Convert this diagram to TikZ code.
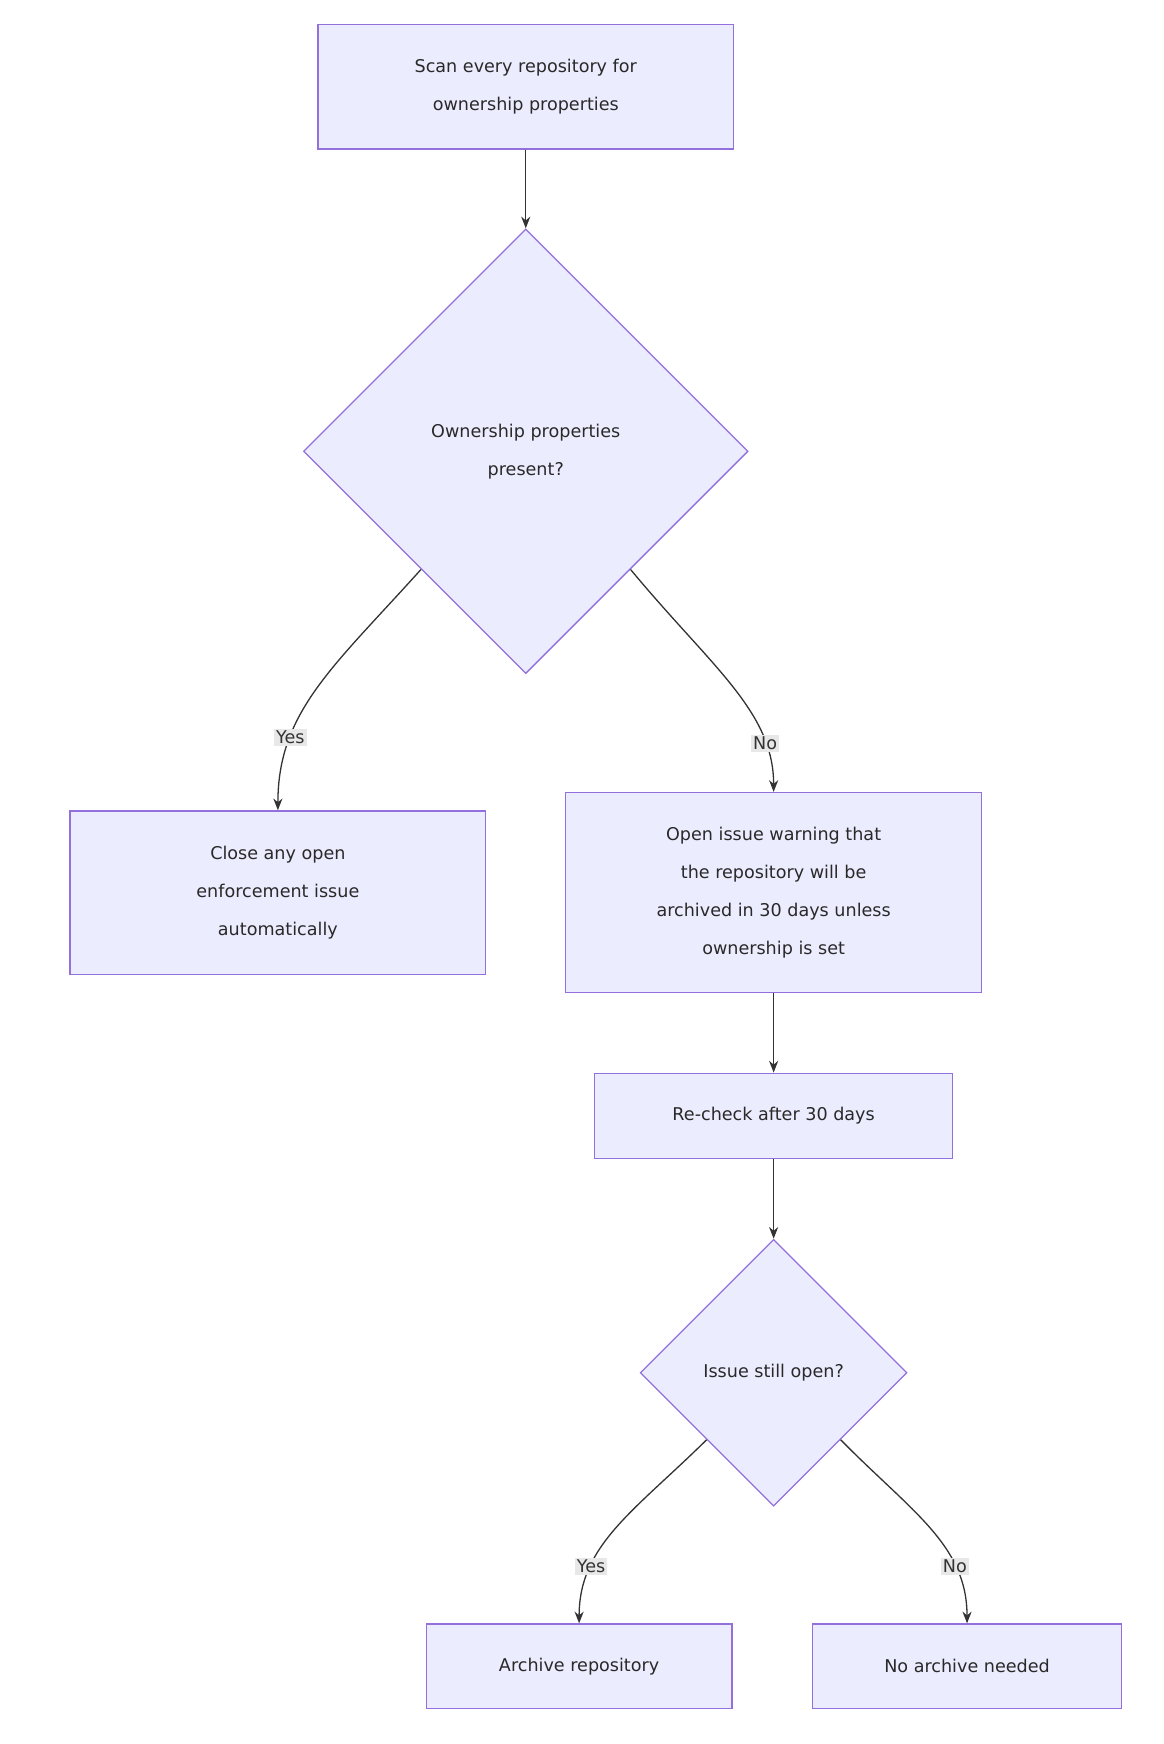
\documentclass[tikz,border=0pt]{standalone}
\usepackage{fontspec}
\setmainfont{DejaVu Sans}
\usetikzlibrary{shapes.geometric,calc,arrows.meta}
\definecolor{nfill}{HTML}{ECECFF}
\definecolor{nline}{HTML}{9370DB}
\definecolor{eline}{HTML}{333333}
\definecolor{lfill}{HTML}{E8E8E8}
\begin{document}
\begin{tikzpicture}[x=0.03cm,y=-0.03cm,
  box/.style={draw=nline,fill=nfill,line width=1pt,align=center,inner sep=0,font=\fontsize{13.5}{29}\selectfont,text=eline!80!black},
  dia/.style={box,shape=diamond,aspect=1},
  e/.style={draw=eline,line width=1pt,-{Stealth[length=9pt,width=7pt]}},
  lab/.style={fill=lfill,inner sep=1.5pt,font=\fontsize{13.5}{16}\selectfont,text=eline}]
\useasboundingbox (0,0) rectangle (1047,1569);
\node[box,minimum width=374*0.03cm,minimum height=112*0.03cm] (scan) at (473,78) {Scan every repository for\\ownership properties};
\node[dia,minimum width=400*0.03cm,minimum height=400*0.03cm] (d1) at (473,406) {Ownership properties\\present?};
\node[box,minimum width=374*0.03cm,minimum height=147*0.03cm] (close) at (250,803) {Close any open\\enforcement issue\\automatically};
\node[box,minimum width=374*0.03cm,minimum height=180*0.03cm] (open) at (696,803) {Open issue warning that\\the repository will be\\archived in 30 days unless\\ownership is set};
\node[box,minimum width=322*0.03cm,minimum height=77*0.03cm] (re) at (696,1004) {Re-check after 30 days};
\node[dia,minimum width=240*0.03cm,minimum height=240*0.03cm] (d2) at (696,1235) {Issue still open?};
\node[box,minimum width=275*0.03cm,minimum height=76*0.03cm] (arch) at (521,1499) {Archive repository};
\node[box,minimum width=278*0.03cm,minimum height=76*0.03cm] (noarch) at (870,1499) {No archive needed};
\draw[e] (scan) -- (d1.north);
\coordinate (a1) at ($(d1.west)!0.53!(d1.south)$);
\coordinate (a2) at ($(d1.east)!0.53!(d1.south)$);
\draw[e] (a1) .. controls (300,600) and (250,640) .. (close.north) node[lab,pos=0.72] {Yes};
\draw[e] (a2) .. controls (640,600) and (696,640) .. (open.north) node[lab,pos=0.78] {No};
\draw[e] (open) -- (re);
\draw[e] (re) -- (d2.north);
\coordinate (b1) at ($(d2.west)!0.5!(d2.south)$);
\coordinate (b2) at ($(d2.east)!0.5!(d2.south)$);
\draw[e] (b1) .. controls (570,1360) and (521,1390) .. (arch.north) node[lab,pos=0.72] {Yes};
\draw[e] (b2) .. controls (820,1360) and (870,1390) .. (noarch.north) node[lab,pos=0.72] {No};
\end{tikzpicture}
\end{document}
